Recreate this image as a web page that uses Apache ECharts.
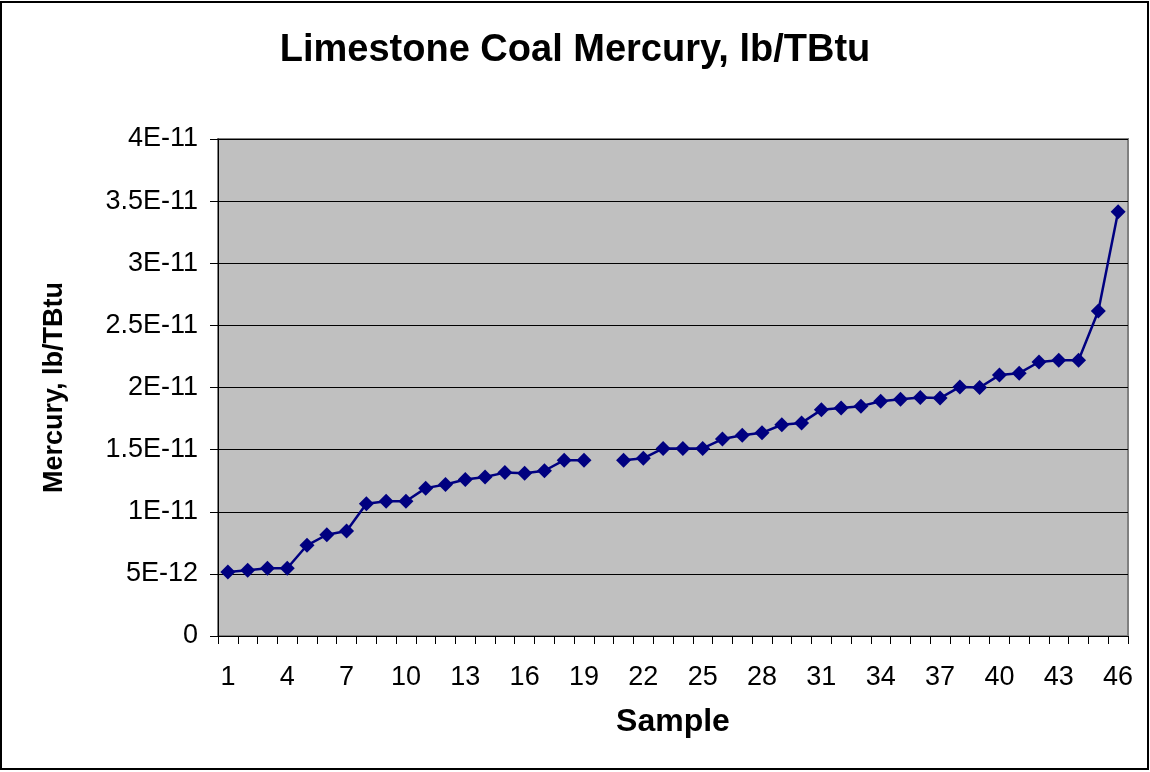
<!DOCTYPE html>
<html>
<head>
<meta charset="utf-8">
<script src="https://cdn.jsdelivr.net/npm/echarts@6/dist/echarts.min.js"></script>
<style>
  html, body { margin: 0; padding: 0; background: #fff; }
  #chart { width: 1150px; height: 772px; }
</style>
</head>
<body>
<div id="chart"></div>
<script>
// sample numbers 1..46
const samples = [
  "1", "2", "3", "4", "5", "6", "7", "8", "9", "10",
  "11", "12", "13", "14", "15", "16", "17", "18", "19", "20",
  "21", "22", "23", "24", "25", "26", "27", "28", "29", "30",
  "31", "32", "33", "34", "35", "36", "37", "38", "39", "40",
  "41", "42", "43", "44", "45", "46"
];
// mercury, lb/TBtu (sample 20 has no value)
const mercury = [
  5.15e-12, 5.3e-12, 5.45e-12, 5.45e-12, 7.3e-12, 8.15e-12, 8.45e-12, 10.65e-12, 10.85e-12, 10.85e-12,
  11.9e-12, 12.2e-12, 12.6e-12, 12.8e-12, 13.15e-12, 13.1e-12, 13.3e-12, 14.15e-12, 14.15e-12, null,
  14.15e-12, 14.3e-12, 15.1e-12, 15.1e-12, 15.1e-12, 15.85e-12, 16.15e-12, 16.35e-12, 17.0e-12, 17.15e-12,
  18.2e-12, 18.35e-12, 18.5e-12, 18.9e-12, 19.05e-12, 19.2e-12, 19.15e-12, 20.05e-12, 20.0e-12, 21.0e-12,
  21.15e-12, 22.05e-12, 22.2e-12, 22.2e-12, 26.15e-12, 34.15e-12
];
const yMin = 0;
const yMax = 4e-11;
const yStep = 5e-12;

function sciLabel(v) {
  if (Math.abs(v) < 1e-20) return "0";
  const n = parseFloat(v.toPrecision(6));
  return n.toExponential().replace("e", "E").replace("+", "");
}

const font = "Liberation Sans, Arial, sans-serif";
const chart = echarts.init(document.getElementById("chart"));

const option = {
  backgroundColor: "#fff",
  animation: false,
  title: {
    text: "Limestone Coal Mercury, lb/TBtu",
    left: "center",
    top: 27,
    textStyle: { fontFamily: font, fontSize: 38, fontWeight: "bold", color: "#000" }
  },
  graphic: [{
    type: "rect",
    shape: { x: 1, y: 2, width: 1147, height: 767 },
    style: { fill: "none", stroke: "#000", lineWidth: 2 },
    silent: true
  }],
  grid: {
    left: 218, right: 22, top: 139, bottom: 136,
    show: true,
    backgroundColor: "#c0c0c0",
    borderColor: "#808080",
    borderWidth: 2
  },
  xAxis: {
    type: "category",
    data: samples,
    boundaryGap: true,
    name: "Sample",
    nameLocation: "middle",
    nameGap: 70,
    nameTextStyle: { fontFamily: font, fontSize: 32, fontWeight: "bold", color: "#000" },
    axisLine: { show: true, lineStyle: { color: "#000", width: 1 } },
    axisTick: { show: true, interval: 0, length: 8, lineStyle: { color: "#000" } },
    axisLabel: { interval: 2, margin: 28, fontFamily: font, fontSize: 27, color: "#000" },
    splitLine: { show: false }
  },
  yAxis: {
    type: "value",
    min: yMin,
    max: yMax,
    interval: yStep,
    name: "Mercury, lb/TBtu",
    nameLocation: "middle",
    nameGap: 150,
    nameTextStyle: { fontFamily: font, fontSize: 27, fontWeight: "bold", color: "#000" },
    axisLine: { show: true, lineStyle: { color: "#000", width: 1 } },
    axisTick: { show: true, length: 8, lineStyle: { color: "#000" } },
    axisLabel: { margin: 20, fontFamily: font, fontSize: 27, color: "#000", formatter: sciLabel },
    splitLine: { show: true, lineStyle: { color: "#000", width: 1 } }
  },
  series: [{
    type: "line",
    data: mercury,
    connectNulls: false,
    showAllSymbol: true,
    symbol: "diamond",
    symbolSize: 15,
    lineStyle: { color: "#000080", width: 2.5 },
    itemStyle: { color: "#000080" }
  }]
};

chart.setOption(option);
</script>
</body>
</html>
